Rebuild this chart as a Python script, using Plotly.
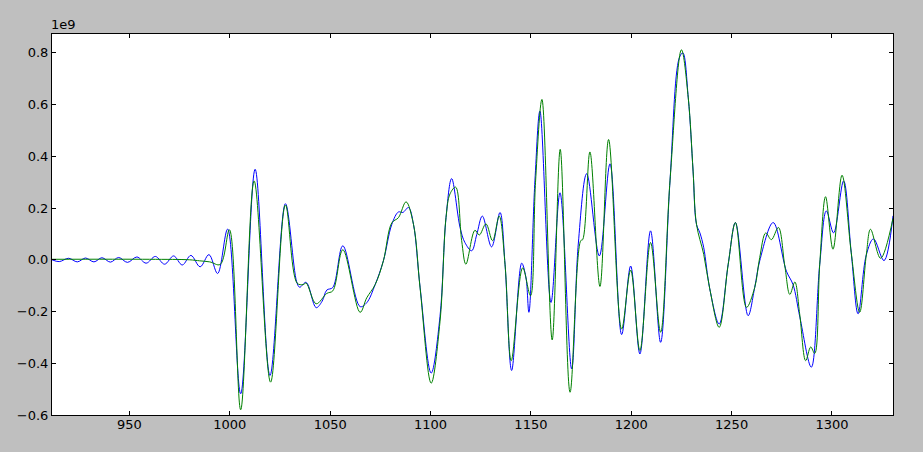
import plotly.graph_objects as go

# values in units of 1e9
blue_x = [911.4, 915.0, 919.7, 924.0, 928.1, 932.3, 936.3, 940.5, 944.6, 949.0, 953.7, 958.3, 962.9,
          967.5, 972.0, 976.3, 980.6, 985.2, 989.6, 993.9, 998.9, 1005.4, 1012.6, 1020.0, 1027.7,
          1033.3, 1034.8, 1038.0, 1043.0, 1046.0, 1048.3, 1051.3, 1056.3, 1064.9, 1068.2, 1072.4,
          1076.5, 1080.7, 1084.0, 1086.2, 1089.0, 1091.5, 1094.8, 1100.3, 1104.7, 1107.7, 1110.5,
          1114.7, 1117.1, 1120.5, 1123.0, 1125.8, 1130.4, 1134.6, 1137.1, 1140.4, 1145.4, 1147.5,
          1149.0, 1152.0, 1154.5, 1160.0, 1164.5, 1170.3, 1173.6, 1177.8, 1184.1, 1189.4, 1195.2,
          1199.7, 1204.3, 1209.6, 1214.6, 1219.3, 1223.9, 1225.7, 1228.4, 1230.8, 1232.5, 1234.2,
          1236.1, 1239.1, 1243.8, 1248.3, 1251.9, 1258.2, 1261.5, 1264.0, 1270.7, 1277.3, 1280.6,
          1284.0, 1289.7, 1293.9, 1297.2, 1300.8, 1305.8, 1309.6, 1313.0, 1317.1, 1320.7, 1325.9,
          1330.4]
blue_y = [0.000, -0.007, 0.006, -0.008, 0.007, -0.008, 0.008, -0.009, 0.009, -0.010, 0.011, -0.013, 0.013,
          -0.017, 0.015, -0.020, 0.017, -0.027, 0.020, -0.053, 0.119, -0.518, 0.350, -0.447, 0.217,
          -0.085, -0.106, -0.087, -0.185, -0.160, -0.117, -0.107, 0.054, -0.181, -0.166, -0.096,
          -0.004, 0.137, 0.185, 0.183, 0.202, 0.137, -0.107, -0.438, -0.220, 0.163, 0.314,
          0.125, 0.067, 0.035, 0.097, 0.169, 0.050, 0.183, -0.017, -0.428, -0.013, -0.067,
          -0.203, 0.305, 0.575, -0.165, 0.259, -0.422, 0.061, 0.333, 0.015, 0.371, -0.289,
          -0.024, -0.364, 0.112, -0.319, 0.305, 0.780, 0.800, 0.626, 0.343, 0.137, 0.104,
          0.047, -0.112, -0.248, -0.017, 0.144, -0.216, -0.107, -0.004, 0.144, -0.044, -0.096,
          -0.222, -0.415, -0.017, 0.189, 0.104, 0.305, 0.027, -0.209, 0.019, 0.081, -0.003,
          0.170]

green_x = [911.4, 960.0, 980.0, 985.0, 990.0, 995.2, 999.8, 1005.4, 1012.1, 1020.3, 1027.7, 1033.5,
           1036.5, 1038.0, 1043.0, 1048.3, 1051.3, 1056.3, 1064.9, 1068.2, 1072.4, 1076.5, 1080.7,
           1084.0, 1087.8, 1091.5, 1094.8, 1100.3, 1104.7, 1107.7, 1109.7, 1112.5, 1115.5, 1117.6,
           1122.1, 1124.3, 1127.6, 1130.9, 1134.2, 1137.1, 1140.2, 1145.9, 1149.8, 1152.3, 1155.5,
           1160.6, 1164.6, 1169.5, 1174.8, 1175.8, 1179.4, 1184.4, 1188.7, 1195.2, 1199.7, 1204.3,
           1209.6, 1214.6, 1219.3, 1225.0, 1228.4, 1230.8, 1232.5, 1236.1, 1239.1, 1243.8, 1248.3,
           1251.9, 1257.4, 1261.5, 1264.0, 1267.0, 1269.8, 1273.3, 1276.5, 1279.0, 1281.5, 1283.9,
           1286.9, 1289.4, 1291.4, 1293.9, 1296.8, 1300.5, 1305.0, 1309.6, 1313.8, 1317.1, 1319.2,
           1324.2, 1330.4]
green_y = [0.002, 0.002, 0.000, -0.004, -0.008, -0.018, 0.116, -0.580, 0.305, -0.473, 0.212, -0.090,
           -0.096, -0.090, -0.170, -0.130, -0.120, 0.039, -0.203, -0.147, -0.096, -0.004, 0.143,
           0.163, 0.224, 0.137, -0.110, -0.477, -0.240, 0.163, 0.255, 0.281, 0.074, -0.017,
           0.114, 0.096, 0.139, 0.074, 0.169, -0.017, -0.390, -0.031, -0.139, 0.300, 0.620,
           -0.310, 0.427, -0.512, 0.074, 0.078, 0.417, -0.103, 0.465, -0.268, -0.040, -0.351,
           0.067, -0.280, 0.305, 0.812, 0.626, 0.343, 0.137, 0.021, -0.112, -0.261, -0.017,
           0.144, -0.184, -0.107, 0.009, 0.104, 0.078, 0.125, -0.024, -0.134, -0.086, -0.209,
           -0.390, -0.337, -0.362, -0.017, 0.244, 0.041, 0.327, 0.027, -0.203, 0.019, 0.118,
           0.006, 0.160]

x_ticks = [950, 1000, 1050, 1100, 1150, 1200, 1250, 1300]
y_ticks = [-0.6, -0.4, -0.2, 0.0, 0.2, 0.4, 0.6, 0.8]
y_tick_text = ["\u22120.6", "\u22120.4", "\u22120.2", "0.0", "0.2", "0.4", "0.6", "0.8"]

fig = go.Figure()
fig.add_trace(go.Scatter(x=blue_x, y=blue_y, mode="lines",
                         line=dict(color="#0000ff", width=1, shape="spline", smoothing=1.0)))
fig.add_trace(go.Scatter(x=green_x, y=green_y, mode="lines",
                         line=dict(color="#008000", width=1, shape="spline", smoothing=1.0)))

axis_common = dict(showgrid=False, zeroline=False, showline=True, linecolor="black", linewidth=1,
                   mirror="ticks", ticks="inside", ticklen=4, tickcolor="black",
                   tickfont=dict(family="DejaVu Sans", size=13, color="black"))
fig.update_xaxes(range=[911.4, 1330.4], tickvals=x_ticks, ticktext=[str(v) for v in x_ticks],
                 ticklabelstandoff=-3, **axis_common)
fig.update_yaxes(range=[-0.6, 0.873], tickvals=y_ticks, ticktext=y_tick_text, **axis_common)

fig.add_annotation(text="1e9", xref="paper", yref="paper", x=0, y=1, xanchor="left", yanchor="bottom",
                   showarrow=False, font=dict(family="DejaVu Sans", size=13, color="black"),
                   xshift=-3, yshift=0)

fig.update_layout(width=923, height=452, showlegend=False, hovermode=False,
                  margin=dict(l=52, r=30, t=34, b=37),
                  paper_bgcolor="#bfbfbf", plot_bgcolor="white")

fig.write_html("out.html", config={"displayModeBar": False, "staticPlot": True},
               post_script="document.body.style.margin='0px';document.body.style.overflow='hidden';")
